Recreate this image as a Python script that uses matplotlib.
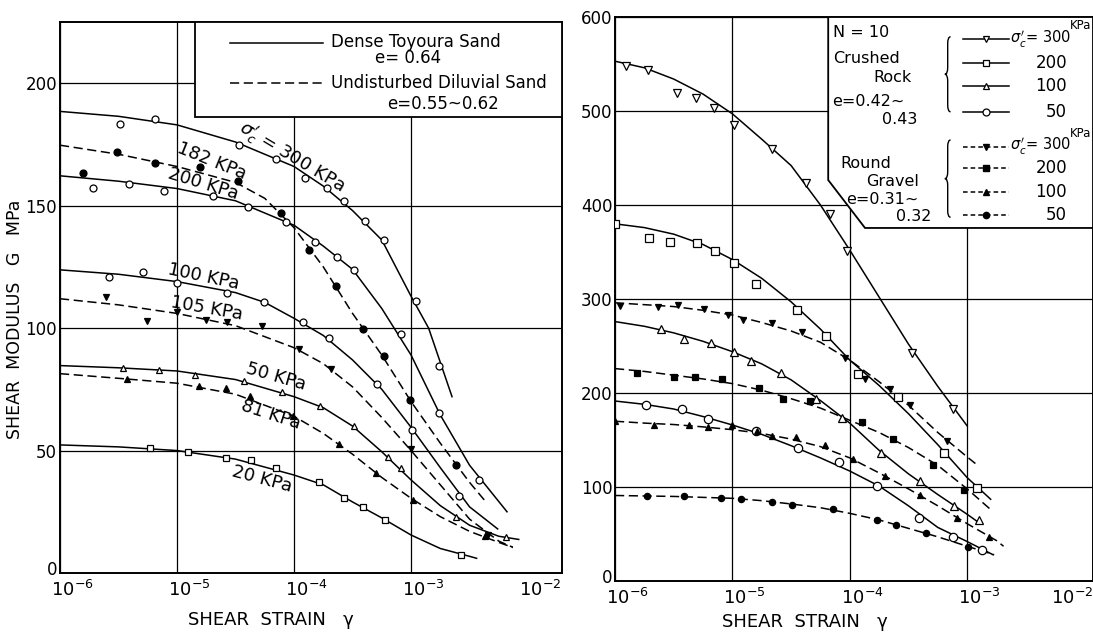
import numpy as np
import matplotlib.pyplot as plt
from matplotlib.path import Path
from matplotlib.patches import PathPatch, Polygon, Rectangle
from matplotlib.ticker import NullLocator
from matplotlib.transforms import ScaledTranslation

plt.rcParams['font.family'] = ['DejaVu Sans']
plt.rcParams['mathtext.fontset'] = 'dejavusans'

# ---- left panel: Toyoura sand (solid) / Diluvial sand (dashed) ----
# strains are given as log10(gamma), G in MPa
T300_lx = [-6, -5.5, -5, -4.5, -4.0, -3.75, -3.5, -3.25, -3.0, -2.85, -2.75, -2.65]
T300_lg = [188.5, 186.5, 183, 176, 166, 158, 148, 136, 113, 100, 86, 72]
T300_px = [-5.49, -5.19, -4.47, -4.15, -3.91, -3.72, -3.57, -3.39, -3.23, -2.96, -2.76]
T300_pg = [183.4, 185.6, 174.6, 169, 161.3, 157.2, 151.8, 143.8, 135.9, 111, 84.7]

T200_lx = [-6, -5.5, -5, -4.5, -4.0, -3.75, -3.5, -3.25, -3.0, -2.75, -2.5, -2.18]
T200_lg = [162.2, 160, 157, 152, 142, 133.5, 124, 108, 89, 64.5, 44, 25]
T200_px = [-5.72, -5.41, -5.11, -4.69, -4.39, -4.07, -3.82, -3.63, -3.49, -3.09, -2.76, -2.42]
T200_pg = [157.4, 158.9, 156, 154, 149.5, 143.5, 135.3, 129, 123.6, 97.5, 65.3, 38]

D182_lx = [-6, -5.5, -5, -4.5, -4.25, -4.0, -3.75, -3.5, -3.25, -3.0, -2.75, -2.5, -2.36]
D182_lg = [174.7, 171, 166, 159.5, 153, 141, 125, 106, 89, 70, 53, 37, 29]
D182_px = [-5.80, -5.51, -5.19, -4.80, -4.48, -4.11, -3.87, -3.64, -3.41, -3.23, -3.01, -2.62]
D182_pg = [163.5, 171.8, 167.6, 166, 160, 147, 132, 117, 99.7, 88.5, 70.8, 43.9]

T100_lx = [-6, -5.5, -5, -4.5, -4.25, -4.0, -3.75, -3.5, -3.25, -3.0, -2.75, -2.5, -2.26]
T100_lg = [123.8, 122, 119, 114.5, 110.5, 104, 97, 87, 75, 59.5, 43, 27, 18]
T100_px = [-5.58, -5.29, -5.0, -4.57, -4.26, -3.92, -3.70, -3.29, -2.99, -2.59]
T100_pg = [121, 123, 118.5, 114.5, 110.5, 102.7, 96, 77, 58.5, 31.5]

D105_lx = [-6, -5.5, -5, -4.5, -4.0, -3.75, -3.5, -3.25, -3.0, -2.75, -2.5, -2.25, -2.13]
D105_lg = [112, 109.5, 106, 101, 92, 85.5, 76, 63.5, 50, 36, 22, 13, 10.5]
D105_px = [-5.61, -5.26, -5.0, -4.75, -4.57, -4.27, -3.96, -3.68, -3.0, -2.34]
D105_pg = [112.6, 103, 106.5, 103.5, 102.7, 100.7, 91.5, 83.5, 50.5, 15.4]

T50_lx = [-6, -5.5, -5, -4.5, -4.0, -3.75, -3.5, -3.25, -3.0, -2.75, -2.5, -2.25, -2.08]
T50_lg = [84.7, 83.8, 82.5, 79, 72, 67.5, 60, 49.5, 38, 27.5, 19.5, 15, 13.7]
T50_px = [-5.46, -5.15, -4.85, -4.43, -4.10, -3.78, -3.49, -3.20, -3.09, -2.62, -2.19]
T50_pg = [83.7, 83, 81, 78.6, 73.8, 68.3, 60.1, 47.5, 42.8, 23, 14.5]

D81_lx = [-6, -5.5, -5, -4.5, -4.0, -3.75, -3.5, -3.25, -3.0, -2.75, -2.5, -2.25, -2.13]
D81_lg = [81.4, 79.5, 77.5, 73, 64, 57, 48.5, 39, 30.5, 23, 17, 12.5, 10.4]
D81_px = [-5.43, -4.81, -4.58, -4.38, -4.01, -3.62, -3.30, -2.98, -2.37]
D81_pg = [79.2, 76.5, 75.5, 72.1, 64.2, 52.6, 40.7, 30, 15]

T20_lx = [-6, -5.5, -5, -4.5, -4.0, -3.75, -3.5, -3.25, -3.0, -2.75, -2.5, -2.44]
T20_lg = [52.3, 51.5, 50, 46.5, 40, 36, 29, 22.5, 15.5, 10, 6.8, 6]
T20_px = [-5.23, -4.91, -4.58, -4.37, -4.15, -3.79, -3.57, -3.41, -3.22, -2.57]
T20_pg = [51, 49.6, 46.9, 46.2, 42.8, 37.3, 30.7, 26.8, 21.6, 7.2]

# ---- right panel: crushed rock (solid) / round gravel (dashed), N = 10 ----
C300_lx = [-6, -5.75, -5.5, -5.25, -5.0, -4.75, -4.5, -4.25, -4.0, -3.75, -3.5, -3.25, -3.0]
C300_lg = [553, 546, 534, 518, 497, 470, 442, 400, 352, 302, 252, 207, 165]
C300_px = [-5.91, -5.72, -5.47, -5.31, -5.16, -4.99, -4.66, -4.37, -4.17, -4.02, -3.47, -3.12]
C300_pg = [547.7, 543.5, 519.4, 513.8, 503.5, 484.8, 459.4, 423, 390.5, 351.6, 243, 182.6]

C200_lx = [-6, -5.75, -5.5, -5.25, -5.0, -4.75, -4.5, -4.25, -4.0, -3.75, -3.5, -3.25, -3.0, -2.8]
C200_lg = [380, 376, 369, 358, 342, 322, 297, 268, 235, 208, 178, 145, 110, 87]
C200_px = [-6.0, -5.71, -5.53, -5.30, -5.15, -4.99, -4.80, -4.45, -4.2, -3.93, -3.59, -3.2, -2.92]
C200_pg = [380, 365, 360.4, 359.7, 350.9, 338, 316.3, 288.5, 260.9, 220, 196, 136.3, 99]

C100_lx = [-6, -5.75, -5.5, -5.25, -5.0, -4.75, -4.5, -4.25, -4.0, -3.75, -3.5, -3.25, -3.0, -2.91]
C100_lg = [276, 271, 264, 255, 244, 231, 214, 192, 168, 139, 114, 92, 71, 63]
C100_px = [-5.61, -5.41, -5.18, -4.99, -4.84, -4.59, -4.29, -4.07, -3.73, -3.4, -3.11, -2.9]
C100_pg = [268, 258, 253, 243.8, 234, 221, 194, 173.7, 136.3, 106, 80, 65]

C50_lx = [-6, -5.75, -5.5, -5.25, -5.0, -4.75, -4.5, -4.25, -4.0, -3.75, -3.5, -3.25, -3.0, -2.78]
C50_lg = [191.5, 188, 183, 175, 166, 156, 144, 131, 117, 101, 80, 57, 42, 28]
C50_px = [-5.74, -5.43, -5.21, -4.8, -4.44, -4.09, -3.77, -3.41, -3.12, -2.87]
C50_pg = [186.8, 182.6, 171.9, 160, 141.6, 126.3, 101.4, 66.9, 46.6, 33]

R300_lx = [-6, -5.75, -5.5, -5.25, -5.0, -4.75, -4.5, -4.25, -4.0, -3.75, -3.5, -3.25, -3.0, -2.93]
R300_lg = [296, 294, 292, 288, 283, 275, 266, 254, 235, 212, 187, 158, 132, 125]
R300_px = [-5.96, -5.63, -5.46, -5.24, -5.04, -4.91, -4.66, -4.41, -4.04, -3.87, -3.66, -3.49, -3.17]
R300_pg = [293, 291, 293.6, 289.3, 283.3, 278, 275, 265, 237.7, 214.6, 204.6, 186.8, 148.8]

R200_lx = [-6, -5.75, -5.5, -5.25, -5.0, -4.75, -4.5, -4.25, -4.0, -3.75, -3.5, -3.25, -3.0, -2.8]
R200_lg = [226, 223, 219, 215, 210, 203, 194, 184, 171, 158, 142, 123, 98, 76]
R200_px = [-5.81, -5.50, -5.32, -5.09, -4.77, -4.57, -4.34, -3.90, -3.63, -3.29, -3.03]
R200_pg = [221.7, 217.4, 217.4, 215.3, 205.7, 194, 191.5, 169, 151.2, 123, 96.4]

R100_lx = [-6, -5.75, -5.5, -5.25, -5.0, -4.75, -4.5, -4.25, -4.0, -3.75, -3.5, -3.25, -3.0, -2.75, -2.69]
R100_lg = [170, 168, 166.5, 164, 161, 157, 151, 143, 131, 115, 98, 80, 61, 43, 37]
R100_px = [-6.0, -5.67, -5.37, -5.21, -5.0, -4.79, -4.66, -4.46, -4.21, -3.97, -3.7, -3.4, -3.09, -2.81]
R100_pg = [170, 166.5, 165.8, 163.7, 165.5, 159.4, 154.8, 153, 145.2, 130, 111.4, 91.8, 67, 47.3]

R50_lx = [-6, -5.5, -5.0, -4.75, -4.5, -4.25, -4.0, -3.75, -3.5, -3.25, -3.0, -2.77]
R50_lg = [91, 90, 88, 85.5, 82, 78, 72, 65, 56, 47, 37, 28]
R50_px = [-5.73, -5.41, -5.1, -4.93, -4.66, -4.49, -4.14, -3.77, -3.61, -3.35, -2.99]
R50_pg = [90, 90, 88.3, 87.2, 84, 81.1, 76.5, 65.1, 59.8, 51, 36.7]

decades = [-6, -5, -4, -3, -2]
left_yticks = [0, 50, 100, 150, 200]
right_yticks = [0, 100, 200, 300, 400, 500, 600]

DASH = (0, (6, 3))


def draw(ax, lx, lg, px, pg, ls, marker, filled, ms):
    ax.plot(10.0 ** np.array(lx), lg, color='k', lw=1.1, ls=ls, zorder=3)
    ax.plot(10.0 ** np.array(px), pg, ls='none', marker=marker, ms=ms,
            mfc='k' if filled else 'white', mec='k', mew=0.9, zorder=4)


def setup(ax, xmax, ymax, yticks, fig, last_shift):
    ax.set_xscale('log')
    ax.set_xlim(1e-6, xmax)
    ax.set_ylim(0, ymax)
    ax.xaxis.set_minor_locator(NullLocator())
    ax.set_xticks([10.0 ** d for d in decades])
    ax.set_xticklabels([r'$10^{%d}$' % d for d in decades], fontsize=13)
    ax.set_yticks(yticks)
    ax.set_yticklabels([str(v) for v in yticks], fontsize=12)
    ax.tick_params(length=0, pad=2)
    ax.tick_params(axis='x', pad=5)
    ax.grid(True, which='major', color='k', lw=0.9)
    ax.get_xgridlines()[-1].set_visible(False)
    for s in ax.spines.values():
        s.set_linewidth(1.4)
    labs = ax.get_xticklabels()
    for i, lab in enumerate(labs):
        dx = -0.09 - (last_shift if i == len(labs) - 1 else 0)
        lab.set_horizontalalignment('left')
        lab.set_transform(lab.get_transform() + ScaledTranslation(dx, 0, fig.dpi_scale_trans))
    zero = ax.get_yticklabels()[0]
    zero.set_transform(zero.get_transform() + ScaledTranslation(0, 0.05, fig.dpi_scale_trans))


def brace(ax, x, y0, y1, w=0.012):
    ym = (y0 + y1) / 2
    c = 0.012
    verts = [(x + w, y1), (x + w / 2, y1), (x + w / 2, y1 - c),
             (x + w / 2, ym + c), (x + w / 2, ym), (x, ym),
             (x + w / 2, ym), (x + w / 2, ym - c),
             (x + w / 2, y0 + c), (x + w / 2, y0), (x + w, y0)]
    codes = [Path.MOVETO, Path.CURVE3, Path.CURVE3, Path.LINETO, Path.CURVE3, Path.CURVE3,
             Path.CURVE3, Path.CURVE3, Path.LINETO, Path.CURVE3, Path.CURVE3]
    ax.add_patch(PathPatch(Path(verts, codes), fc='none', ec='k', lw=1.0,
                           transform=ax.transAxes, zorder=6))


fig = plt.figure(figsize=(10.93, 6.33), dpi=100)
axL = fig.add_axes([0.0549, 0.0948, 0.4593, 0.8704])
axR = fig.add_axes([0.5627, 0.0821, 0.4373, 0.8910])

# left panel curves
draw(axL, T300_lx, T300_lg, T300_px, T300_pg, '-', 'o', False, 5)
draw(axL, T200_lx, T200_lg, T200_px, T200_pg, '-', 'o', False, 5)
draw(axL, D182_lx, D182_lg, D182_px, D182_pg, DASH, 'o', True, 5)
draw(axL, T100_lx, T100_lg, T100_px, T100_pg, '-', 'o', False, 5)
draw(axL, D105_lx, D105_lg, D105_px, D105_pg, DASH, 'v', True, 5)
draw(axL, T50_lx, T50_lg, T50_px, T50_pg, '-', '^', False, 5)
draw(axL, D81_lx, D81_lg, D81_px, D81_pg, DASH, '^', True, 5)
draw(axL, T20_lx, T20_lg, T20_px, T20_pg, '-', 's', False, 5)
setup(axL, 1.95e-2, 225, left_yticks, fig, 0.0)

# left legend box
axL.add_patch(Rectangle((0.269, 0.828), 0.731, 0.172, transform=axL.transAxes,
                        fc='white', ec='k', lw=1.3, zorder=5))
axL.plot([0.339, 0.524], [0.962, 0.962], color='k', lw=1.1, transform=axL.transAxes, zorder=6)
axL.plot([0.339, 0.524], [0.889, 0.889], color='k', lw=1.1, ls=DASH, transform=axL.transAxes, zorder=6)
tl = dict(transform=axL.transAxes, fontsize=12, zorder=7, va='center')
axL.text(0.540, 0.963, 'Dense Toyoura Sand', ha='left', **tl)
axL.text(0.693, 0.934, 'e= 0.64', ha='center', **tl)
axL.text(0.540, 0.890, 'Undisturbed Diluvial Sand', ha='left', **tl)
axL.text(0.762, 0.852, 'e=0.55~0.62', ha='center', **tl)

# curve labels
cl = dict(transform=axL.transAxes, fontsize=13, ha='center', va='center', zorder=7)
axL.text(0.462, 0.755, r"$\sigma_c'$ = 300 KPa", rotation=-31, **cl)
axL.text(0.303, 0.748, '182 KPa', rotation=-22, **cl)
axL.text(0.285, 0.706, '200 KPa', rotation=-17, **cl)
axL.text(0.285, 0.537, '100 KPa', rotation=-12, **cl)
axL.text(0.293, 0.481, '105 KPa', rotation=-10, **cl)
axL.text(0.431, 0.356, '50 KPa', rotation=-16, **cl)
axL.text(0.419, 0.287, '81 KPa', rotation=-18, **cl)
axL.text(0.402, 0.171, '20 KPa', rotation=-15, **cl)

# right panel curves
draw(axR, C300_lx, C300_lg, C300_px, C300_pg, '-', 'v', False, 6)
draw(axR, C200_lx, C200_lg, C200_px, C200_pg, '-', 's', False, 6)
draw(axR, C100_lx, C100_lg, C100_px, C100_pg, '-', '^', False, 6)
draw(axR, C50_lx, C50_lg, C50_px, C50_pg, '-', 'o', False, 6)
draw(axR, R300_lx, R300_lg, R300_px, R300_pg, DASH, 'v', True, 5)
draw(axR, R200_lx, R200_lg, R200_px, R200_pg, DASH, 's', True, 4.5)
draw(axR, R100_lx, R100_lg, R100_px, R100_pg, DASH, '^', True, 5)
draw(axR, R50_lx, R50_lg, R50_px, R50_pg, DASH, 'o', True, 4.5)
setup(axR, 1.18e-2, 600, right_yticks, fig, 0.25)

# right legend box (cut corner)
axR.add_patch(Polygon([(0.446, 1.0), (0.446, 0.711), (0.523, 0.626), (1.0, 0.626), (1.0, 1.0)],
                      closed=True, transform=axR.transAxes, fc='white', ec='k', lw=1.3, zorder=5))
tr = dict(transform=axR.transAxes, fontsize=11.5, zorder=7, va='center', ha='left')
axR.text(0.456, 0.972, 'N = 10', **tr)
axR.text(0.456, 0.926, 'Crushed', **tr)
axR.text(0.540, 0.892, 'Rock', **tr)
axR.text(0.454, 0.850, 'e=0.42~', **tr)
axR.text(0.559, 0.819, '0.43', **tr)
axR.text(0.471, 0.741, 'Round', **tr)
axR.text(0.525, 0.709, 'Gravel', **tr)
axR.text(0.483, 0.677, 'e=0.31~', **tr)
axR.text(0.588, 0.646, '0.32', **tr)
brace(axR, 0.690, 0.832, 0.965)
brace(axR, 0.690, 0.645, 0.782)

leg_rows_c = [0.961, 0.918, 0.878, 0.832]
leg_rows_r = [0.770, 0.732, 0.690, 0.649]
leg_markers = ['v', 's', '^', 'o']
leg_labels = ['300', '200', '100', '50']
for yc, yr, mk, lb in zip(leg_rows_c, leg_rows_r, leg_markers, leg_labels):
    axR.plot([0.728, 0.824], [yc, yc], color='k', lw=1.1, transform=axR.transAxes, zorder=6)
    axR.plot([0.776], [yc], marker=mk, ms=5, mfc='white', mec='k', mew=0.9,
             transform=axR.transAxes, zorder=7)
    axR.plot([0.728, 0.824], [yr, yr], color='k', lw=1.1, ls=(0, (3, 2)),
             transform=axR.transAxes, zorder=6)
    axR.plot([0.776], [yr], marker=mk, ms=4.5, mfc='k', mec='k',
             transform=axR.transAxes, zorder=7)
    if lb == '300':
        for yy in (yc, yr):
            axR.text(0.826, yy, r"$\sigma_c'$= 300", transform=axR.transAxes, fontsize=10.5,
                     ha='left', va='center', zorder=7)
            axR.text(0.952, yy + 0.024, 'KPa', transform=axR.transAxes, fontsize=8.5,
                     ha='left', va='center', zorder=7)
    else:
        axR.text(0.946, yc, lb, transform=axR.transAxes, fontsize=12, ha='right', va='center', zorder=7)
        axR.text(0.946, yr, lb, transform=axR.transAxes, fontsize=12, ha='right', va='center', zorder=7)

# axis titles
fig.text(0.248, 0.021, 'SHEAR  STRAIN   γ', fontsize=13, ha='center', va='center')
fig.text(0.7365, 0.018, 'SHEAR  STRAIN   γ', fontsize=13, ha='center', va='center')
fig.text(0.0140, 0.495, 'SHEAR  MODULUS   G   MPa', fontsize=12.5, rotation=90, ha='center', va='center')

fig.savefig('out.png', dpi=100)
